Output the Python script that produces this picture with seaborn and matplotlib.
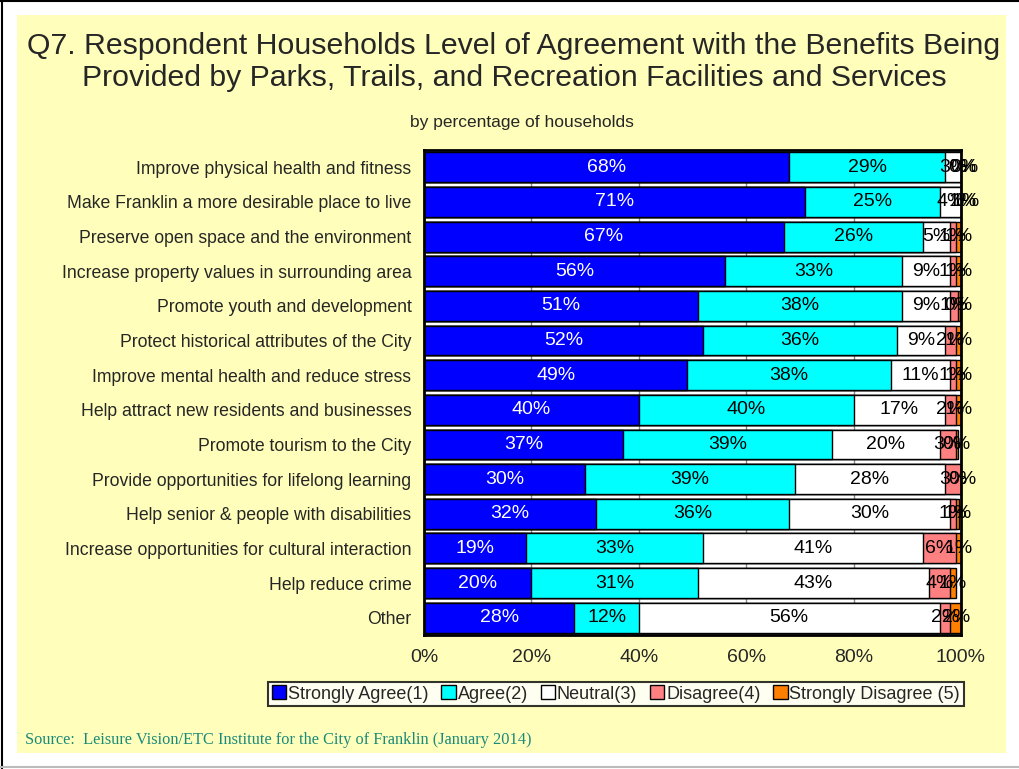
import matplotlib
matplotlib.use("Agg")
import matplotlib.pyplot as plt
import seaborn as sns
import numpy as np
from matplotlib.patches import Rectangle
from matplotlib.lines import Line2D

categories = [
    "Improve physical health and fitness",
    "Make Franklin a more desirable place to live",
    "Preserve open space and the environment",
    "Increase property values in surrounding area",
    "Promote youth and development",
    "Protect historical attributes of the City",
    "Improve mental health and reduce stress",
    "Help attract new residents and businesses",
    "Promote tourism to the City",
    "Provide opportunities for lifelong learning",
    "Help senior & people with disabilities",
    "Increase opportunities for cultural interaction",
    "Help reduce crime",
    "Other",
]
strongly_agree = [68, 71, 67, 56, 51, 52, 49, 40, 37, 30, 32, 19, 20, 28]
agree = [29, 25, 26, 33, 38, 36, 38, 40, 39, 39, 36, 33, 31, 12]
neutral = [3, 4, 5, 9, 9, 9, 11, 17, 20, 28, 30, 41, 43, 56]
disagree = [0.4, 0.6, 1, 1, 1.4, 2, 1, 2, 3, 3, 1, 6, 4, 2]
strongly_disagree = [0.4, 0.6, 1, 1, 0.4, 1, 1, 1, 0.4, 0.4, 0.6, 1, 1, 2]

series_names = ["Strongly Agree(1)", "Agree(2)", "Neutral(3)", "Disagree(4)", "Strongly Disagree (5)"]
colors = ["#0000FF", "#00FFFF", "#FFFFFF", "#FF8080", "#FF8000"]
series = [strongly_agree, agree, neutral, disagree, strongly_disagree]

sns.set_style("white")
plt.rcParams["font.family"] = ["Liberation Sans", "DejaVu Sans"]

fig = plt.figure(figsize=(10.2, 7.69), dpi=100, facecolor="white")
# yellow panel
fig.patches.append(Rectangle((17 / 1020, 1 - 753 / 769), (1006 - 17) / 1020, (753 - 15) / 769,
                             transform=fig.transFigure, facecolor="#FFFFBB", edgecolor="none", zorder=-10))
fig.lines.append(Line2D([2 / 1020, 2 / 1020], [0, 1], transform=fig.transFigure, color="black", lw=1.5))
fig.lines.append(Line2D([0, 1], [1 - 1 / 769, 1 - 1 / 769], transform=fig.transFigure, color="black", lw=1.5))
fig.lines.append(Line2D([0, 1], [1 - 767 / 769, 1 - 767 / 769], transform=fig.transFigure, color="#BBBBBB", lw=1.5))

ax = fig.add_axes([424 / 1020, 1 - 635 / 769, (961 - 424) / 1020, (635 - 150) / 769])
ax.set_facecolor("white")

arr = np.array(series, dtype=float)
cums = np.cumsum(arr, axis=0)

# draw cumulative bars from the longest to the shortest
for i in range(len(series) - 1, -1, -1):
    sns.barplot(x=cums[i], y=categories, orient="h", color=colors[i], width=0.86,
                edgecolor="black", linewidth=1.0, ax=ax, zorder=2, saturation=1)

# labels
for i in range(len(series)):
    for j, cat in enumerate(categories):
        v = arr[i, j]
        left = cums[i, j] - v
        txt_color = "white" if i == 0 else "black"
        ax.text(left + v / 2, j, f"{int(round(v))}%", ha="center", va="center",
                fontsize=14, color=txt_color, zorder=5)

ax.set_xlim(0, 100)
ax.set_xticks([0, 20, 40, 60, 80, 100])
ax.set_xticklabels(["0%", "20%", "40%", "60%", "80%", "100%"], fontsize=14)
ax.tick_params(axis="y", labelsize=12.7, length=0, pad=9)
ax.tick_params(axis="x", length=0, pad=10)
ax.set_xlabel("")
ax.set_ylabel("")
ax.grid(axis="x", color="#888888", lw=1, zorder=0)
ax.set_axisbelow(True)
for s in ax.spines.values():
    s.set_visible(True)
    s.set_color("black")
    s.set_linewidth(2)

fig.text(514 / 1020, 1 - 62 / 769,
         "Q7. Respondent Households Level of Agreement with the Benefits Being\nProvided by Parks, Trails, and Recreation Facilities and Services",
         ha="center", va="center", fontsize=21.8, linespacing=1.22)
fig.text(522 / 1020, 1 - 123 / 769, "by percentage of households", ha="center", va="center", fontsize=12.5)

handles = [Rectangle((0, 0), 1, 1, facecolor=c, edgecolor="black", lw=1) for c in colors]
leg = fig.legend(handles, series_names, loc="center", bbox_to_anchor=(616 / 1020, 1 - 694 / 769),
                 ncol=5, fontsize=13, frameon=True, fancybox=False, edgecolor="black",
                 handlelength=0.8, handleheight=0.8, handletextpad=0.1, columnspacing=0.7,
                 borderpad=0.2, borderaxespad=0)
leg.get_frame().set_linewidth(1.5)
leg.get_frame().set_facecolor("white")

fig.text(25 / 1020, 1 - 740 / 769,
         "Source:  Leisure Vision/ETC Institute for the City of Franklin (January 2014)",
         ha="left", va="center", fontsize=11.8, color="#1A8A7A",
         family=["Liberation Serif", "DejaVu Serif"])

fig.savefig("out.png", dpi=100, facecolor="white")
